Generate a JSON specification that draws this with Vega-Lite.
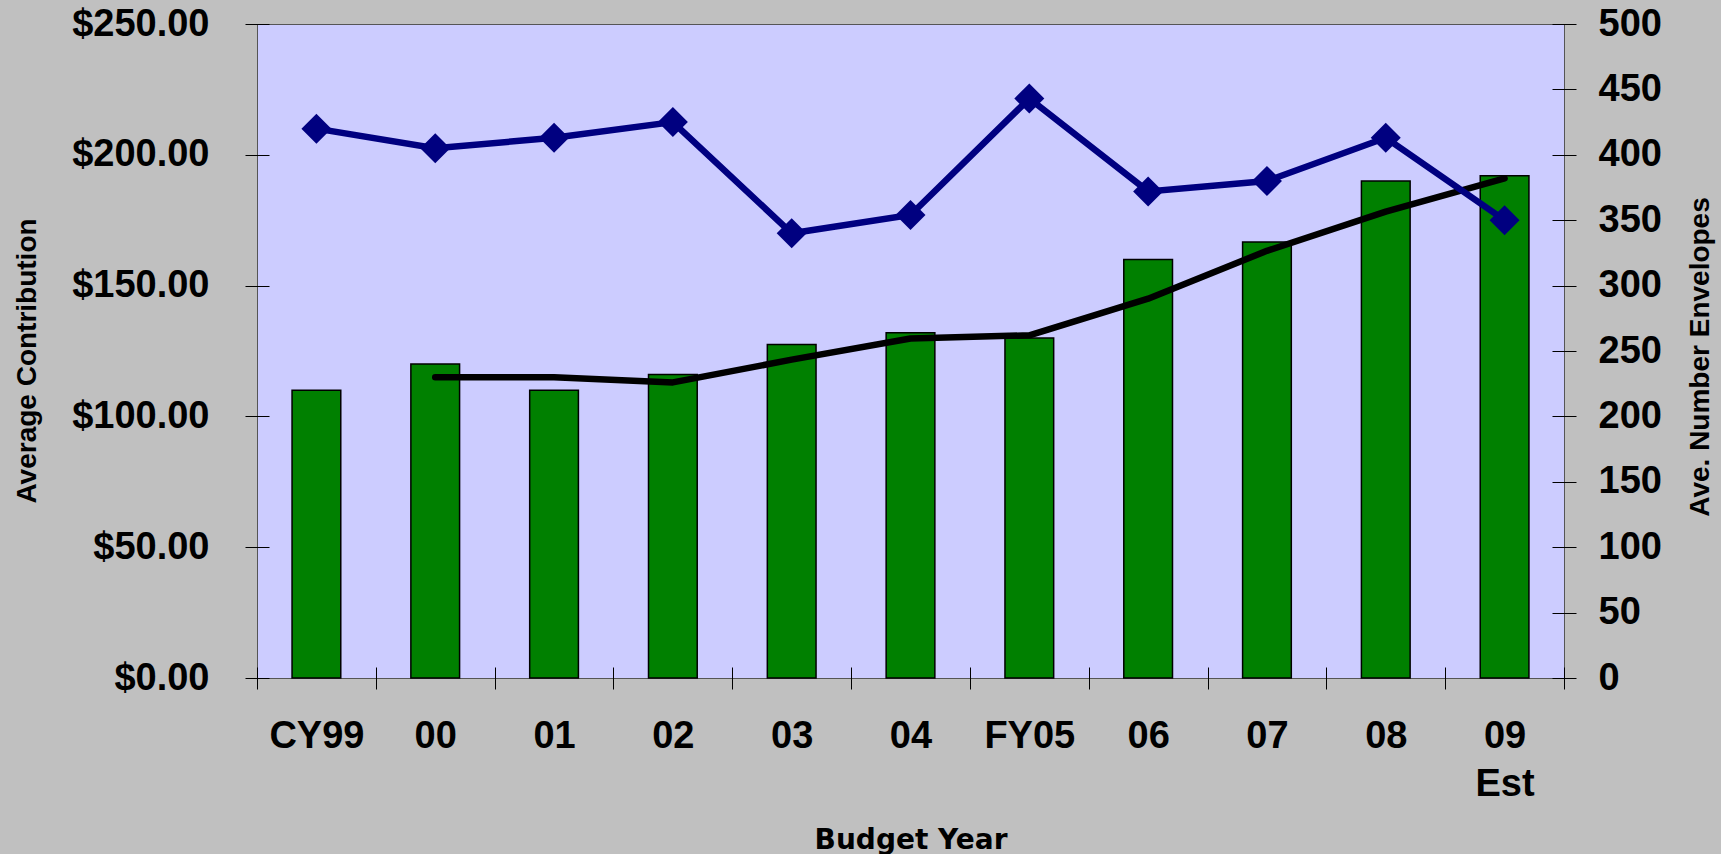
{
  "$schema": "https://vega.github.io/schema/vega-lite/v6.json",
  "width": 1307,
  "height": 654,
  "autosize": {"type": "none"},
  "padding": {"left": 257, "top": 24, "right": 157, "bottom": 176},
  "background": "#C0C0C0",
  "data": {
    "values": [
      {"year": "CY99", "contrib": 110, "ma": null, "env": 420},
      {"year": "00", "contrib": 120, "ma": 115, "env": 405},
      {"year": "01", "contrib": 110, "ma": 115, "env": 413},
      {"year": "02", "contrib": 116, "ma": 113, "env": 425},
      {"year": "03", "contrib": 127.5, "ma": 121.7, "env": 340},
      {"year": "04", "contrib": 132, "ma": 129.8, "env": 354},
      {"year": "FY05", "contrib": 130, "ma": 131, "env": 443},
      {"year": "06", "contrib": 160, "ma": 145, "env": 372},
      {"year": "07", "contrib": 166.7, "ma": 163.3, "env": 380},
      {"year": "08", "contrib": 190, "ma": 178.3, "env": 413},
      {"year": "09 Est", "contrib": 192, "ma": 191, "env": 350}
    ]
  },
  "encoding": {
    "x": {
      "field": "year",
      "type": "nominal",
      "sort": null,
      "scale": {"paddingInner": 0, "paddingOuter": 0},
      "axis": {
        "title": "Budget Year",
        "labelAngle": 0,
        "offset": -11,
        "tickSize": 22,
        "tickBand": "extent",
        "domain": false,
        "labelPadding": 28,
        "labelBaseline": "top",
        "labelExpr": "isValid(datum.value) ? split(datum.value, ' ') : ''",
        "labelLineHeight": 48,
        "labelFont": "Liberation Sans",
        "labelFontSize": 38,
        "labelFontWeight": "bold",
        "titleFont": "DejaVu Sans",
        "titleFontSize": 28,
        "titleFontWeight": "bold",
        "titleX": 653.5,
        "titleY": 181,
        "titleBaseline": "alphabetic",
        "titleAlign": "center"
      }
    }
  },
  "layer": [
    {
      "mark": {"type": "bar", "width": {"band": 0.41}, "color": "#008000", "stroke": "#000000", "strokeWidth": 1.5},
      "encoding": {
        "y": {
          "field": "contrib",
          "type": "quantitative",
          "scale": {"domain": [0, 250]},
          "axis": {
            "title": "Average Contribution",
            "orient": "left",
            "values": [0, 50, 100, 150, 200, 250],
            "format": "$.2f",
            "offset": -12,
            "tickSize": 24,
            "domain": false,
            "labelPadding": 36,
            "labelFont": "Liberation Sans",
            "labelFontSize": 38,
            "labelFontWeight": "bold",
            "titleFont": "Liberation Sans",
            "titleFontSize": 28,
            "titleFontWeight": "bold",
            "titleAngle": 270,
            "titleX": -234,
            "titleY": 336.5,
            "titleBaseline": "alphabetic",
            "titleAlign": "center"
          }
        }
      }
    },
    {
      "mark": {"type": "line", "color": "#000000", "strokeWidth": 6.5, "strokeCap": "round", "strokeJoin": "round"},
      "encoding": {
        "y": {"field": "ma", "type": "quantitative", "scale": {"domain": [0, 250]}, "axis": null}
      }
    },
    {
      "mark": {"type": "line", "color": "#000080", "strokeWidth": 6.5, "point": {"shape": "diamond", "size": 900, "filled": true, "color": "#000080"}},
      "encoding": {
        "y": {
          "field": "env",
          "type": "quantitative",
          "scale": {"domain": [0, 500]},
          "axis": {
            "title": "Ave. Number Envelopes",
            "orient": "right",
            "values": [0, 50, 100, 150, 200, 250, 300, 350, 400, 450, 500],
            "format": "d",
            "offset": -12,
            "tickSize": 24,
            "domain": false,
            "labelPadding": 22,
            "labelFont": "Liberation Sans",
            "labelFontSize": 38,
            "labelFontWeight": "bold",
            "titleFont": "Liberation Sans",
            "titleFontSize": 28,
            "titleFontWeight": "bold",
            "titleAngle": 270,
            "titleX": 156,
            "titleY": 332.5,
            "titleBaseline": "alphabetic",
            "titleAlign": "center"
          }
        }
      }
    }
  ],
  "resolve": {"scale": {"y": "independent"}},
  "config": {
    "view": {"fill": "#CCCCFF", "stroke": "#555555"},
    "axis": {"tickColor": "#000000", "labelColor": "#000000", "titleColor": "#000000", "grid": false}
  }
}
